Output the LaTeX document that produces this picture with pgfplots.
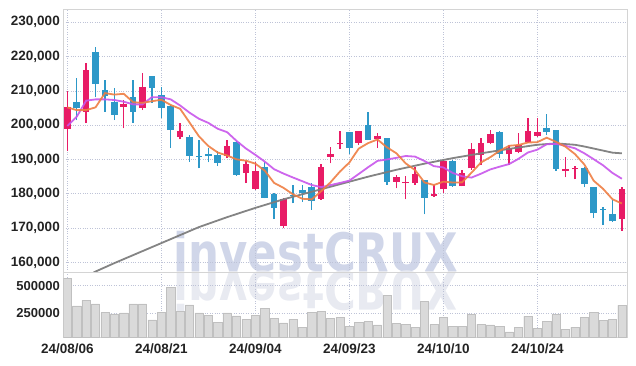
\documentclass[border=0pt]{standalone}
\usepackage{fontspec}
\setmainfont{Liberation Sans}
\newfontfamily\wmfont{DejaVu Sans}
\usepackage{pgfplots}
\pgfplotsset{compat=1.18}
\usepackage{pgfplotstable}

\definecolor{cup}{RGB}{232,28,102}
\definecolor{cdn}{RGB}{45,152,200}
\definecolor{mafive}{RGB}{238,125,66}
\definecolor{maten}{RGB}{200,85,235}
\definecolor{masixty}{RGB}{125,125,125}
\definecolor{gridc}{RGB}{190,195,215}
\definecolor{framec}{RGB}{212,212,212}
\definecolor{volc}{RGB}{218,218,218}
\definecolor{wmc}{RGB}{208,214,233}
\definecolor{wmr}{RGB}{232,234,241}
\definecolor{txt}{RGB}{35,35,35}

% up (red) candles: i O H L C
\pgfplotstableread{
i O H L C
0 199000 210100 192600 205200
2 203900 218000 200600 216100
6 205400 207400 199100 206200
8 205000 215100 204400 211000
12 196700 200600 195900 198300
17 191100 195700 190400 193900
19 186200 189600 183100 188700
20 181400 189400 181100 186700
23 170600 178700 170000 178400
27 178500 188600 178200 187700
28 190800 193700 188900 191600
29 194400 198300 193000 194900
31 194900 198400 194200 198300
33 195900 197600 193300 196900
35 183500 185500 181600 184800
36 183200 185200 178400 183500
37 183200 187900 182600 185800
39 179500 182600 179200 179900
40 181300 189800 180300 189600
42 182400 187000 182200 186000
43 187400 194700 187000 193000
44 191300 196400 188400 194700
45 194700 198600 194500 197400
47 191500 194200 188400 193300
48 192300 197600 191800 194200
49 195000 202000 194800 198300
50 196900 202000 196700 197900
53 186700 190600 184800 187200
54 187100 188100 184200 187600
59 172600 181900 169300 181400
}\upT

% down (blue) candles: i O H L C
\pgfplotstableread{
i O H L C
1 206800 213700 201500 205000
3 221300 222900 208100 212000
4 210300 213200 203900 208500
5 206900 210800 201500 203000
7 208100 213200 200600 203900
9 214300 214400 206500 210900
10 208800 211100 202000 205100
11 205600 205800 193400 198600
13 196600 197200 189400 191100
14 191000 195700 187400 190700
15 191600 193300 189200 191000
16 191300 192600 188100 189100
18 195100 195500 185300 185600
21 187900 189400 178700 178900
22 179900 180100 172600 176000
24 179600 182600 177200 179300
25 181100 182600 177700 180200
26 181900 183100 175300 178000
30 197900 198100 191500 193400
32 200100 203800 195600 195700
34 196200 196400 182600 183500
38 184000 184100 174000 178900
41 189600 189800 182000 182300
46 198100 198400 190400 191600
51 199300 203300 197100 198100
52 198600 198700 186700 187200
55 187600 187700 181900 182800
56 181900 182000 172900 174300
57 175600 176300 170900 175400
58 174100 178200 171900 172000
}\dnT

% moving averages: i ma5 ma10
\pgfplotstableread{
i a b
0 205200 199760
1 204400 202480
2 204400 207150
3 205200 207530
4 209360 207530
5 208920 207350
6 209160 206850
7 206720 206080
8 206520 206080
9 207000 208180
10 207420 208170
11 205900 207530
12 204780 205750
13 200800 203660
14 196760 201880
15 193940 200680
16 192040 198970
17 191160 197970
18 190060 195430
19 189660 193210
20 188800 191370
21 186760 189400
22 183180 187170
23 181740 185900
24 179860 184760
25 178560 183680
26 178380 182570
27 180720 181950
28 183360 182550
29 186480 183170
30 189120 183840
31 193180 185780
32 194780 187750
33 195840 189600
34 193560 190020
35 191840 190480
36 188880 191030
37 186900 190840
38 183300 189570
39 182580 188070
40 183540 187690
41 183300 186090
42 183340 185120
43 186160 184730
44 189120 185850
45 190680 187110
46 192540 187920
47 194000 188670
48 194240 190200
49 194960 192040
50 195060 192870
51 196360 194450
52 195140 194570
53 193740 193990
54 191600 193280
55 188580 191820
56 183820 190090
57 181460 188300
58 178420 186080
59 177180 184390
}\maT

% long moving average
\pgfplotstableread{
i g
2.8 157100
5 159800
8 163300
11 166800
14 170300
17 173200
20 175900
23 178400
26 180600
29 182800
32 185000
35 187000
38 188800
41 190400
44 191800
47 193100
50 194300
52 194700
54 194300
55 193800
56 193200
58 192000
59 191800
}\gT

% volume
\pgfplotstableread{
i v
0 566700
1 316200
2 367500
3 334300
4 255800
5 243700
6 252800
7 334300
8 334300
9 189400
10 255800
11 485200
12 267800
13 325200
14 252800
15 234600
16 171200
17 252800
18 225600
19 195400
20 234600
21 295000
22 204400
23 162200
24 195400
25 122900
26 258800
27 267800
28 204400
29 213500
30 135000
31 168200
32 177300
33 144100
34 412800
35 159200
36 150100
37 122900
38 358400
39 150100
40 213500
41 132000
42 132000
43 240700
44 150100
45 144100
46 129000
47 80700
48 122900
49 222600
50 113900
51 177300
52 240700
53 104800
54 122900
55 213500
56 258800
57 186300
58 195400
59 322200
}\volT

\pgfplotsset{
  candle/.style n args={2}{draw=none, mark=none, forget plot,
    error bars/.cd, y dir=plus, y explicit, error mark=none,
    error bar style={draw=#1, solid, line width=#2}},
}

\begin{document}
\begin{tikzpicture}
\node[anchor=base, inner sep=0, text=wmc, xscale=0.82,
  font=\wmfont\bfseries\fontsize{53}{53}\selectfont] at (316pt,94pt) {investCRUX};
\node[anchor=base, inner sep=0, text=wmr, xscale=0.82, yscale=-1,
  font=\wmfont\bfseries\fontsize{53}{53}\selectfont] at (316pt,94pt) {investCRUX};

\begin{axis}[at={(63.3pt,356.7pt)}, anchor=north west, scale only axis,
  width=564.4pt, height=263pt,
  xmin=-0.43, xmax=59.62, ymin=157125, ymax=233790,
  axis line style={draw=framec, line width=0.8pt},
  xtick={0,10,...,50}, xticklabels={},
  ytick={160000,170000,180000,190000,200000,210000,220000,230000},
  yticklabels={{160,000},{170,000},{180,000},{190,000},{200,000},{210,000},{220,000},{230,000}},
  scaled y ticks=false,
  yticklabel style={font=\fontsize{13.5}{14}\selectfont\bfseries, text=txt},
  major tick length=0pt,
  grid=major,
  major grid style={draw=gridc, dotted, line width=0.8pt},
  axis background/.style={fill=none},
  clip=true]
% wicks
\addplot[candle={cup}{1.3pt}]
  table[x=i, y=L, y error plus expr=\thisrow{H}-\thisrow{L}] {\upT};
\addplot[candle={cdn}{1.3pt}]
  table[x=i, y=L, y error plus expr=\thisrow{H}-\thisrow{L}] {\dnT};
% bodies
\addplot[candle={cup}{6.5pt}]
  table[x=i, y=O, y error plus expr=\thisrow{C}-\thisrow{O}] {\upT};
\addplot[candle={cdn}{6.5pt}]
  table[x=i, y=C, y error plus expr=\thisrow{O}-\thisrow{C}] {\dnT};
% moving averages
\addplot[masixty, line width=1.8pt, mark=none, opacity=0.95] table[x=i, y=g] {\gT};
\addplot[maten, line width=1.8pt, mark=none, opacity=0.9] table[x=i, y=b] {\maT};
\addplot[mafive, line width=1.8pt, mark=none, opacity=0.9] table[x=i, y=a] {\maT};
\end{axis}

\begin{axis}[at={(63.3pt,93.3pt)}, anchor=north west, scale only axis,
  width=564.4pt, height=64.6pt,
  xmin=-0.43, xmax=59.62, ymin=32700, ymax=617750,
  axis line style={draw=framec, line width=0.8pt},
  xtick={0,10,20,30,40,50},
  xticklabels={24/08/06,24/08/21,24/09/04,24/09/23,24/10/10,24/10/24},
  ytick={250000,500000},
  yticklabels={250000,500000},
  scaled y ticks=false,
  yticklabel style={font=\fontsize{13}{14}\selectfont\bfseries, text=txt},
  xticklabel style={font=\fontsize{13.5}{14}\selectfont\bfseries, text=txt, yshift=-3pt},
  major tick length=0pt,
  grid=major,
  major grid style={draw=gridc, dotted, line width=0.8pt},
  axis background/.style={fill=none}]
\addplot[ybar, bar width=8.3pt, fill=volc, draw=volc!88!black, line width=0.4pt]
  table[x=i, y=v] {\volT};
\end{axis}
\pgfresetboundingbox
\useasboundingbox (0pt,0pt) rectangle (636pt,366pt);
\end{tikzpicture}
\end{document}
